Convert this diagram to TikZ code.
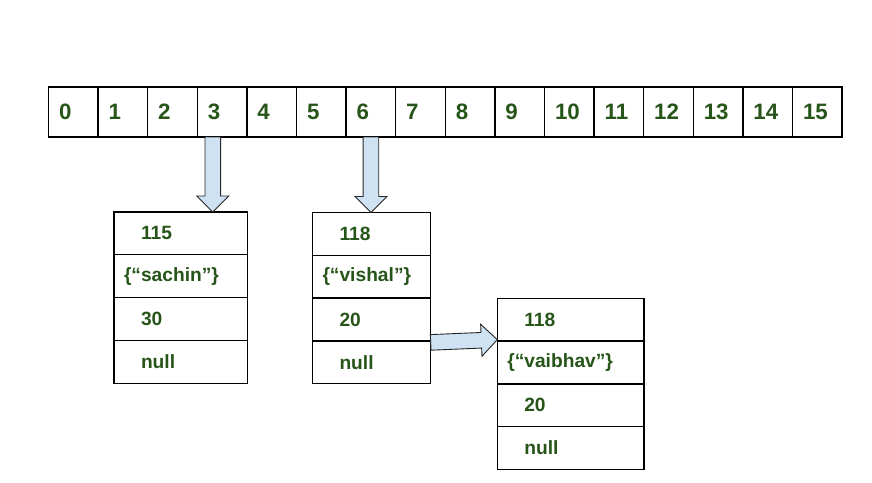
\documentclass[tikz,border=0pt]{standalone}
\usepackage{fontspec}
\setmainfont{Liberation Sans}
\usetikzlibrary{positioning, calc}

\definecolor{keygreen}{RGB}{39,85,25}
\definecolor{arrowblue}{RGB}{207,226,243}

\tikzset{
	cell/.style={draw, line width=1.3pt, outer sep=0pt, minimum height=50pt, inner xsep=10.5pt,
		text width=28.6pt, align=left, text=keygreen, font=\fontsize{22.3pt}{26pt}\selectfont\bfseries},
	field/.style={draw, line width=1.3pt, outer sep=0pt, minimum height=42.8pt, inner xsep=3pt,
		align=left, text=keygreen, font=\fontsize{19.2pt}{22pt}\selectfont\bfseries},
	rowA/.style={field, text width=127.7pt},
	rowB/.style={field, text width=112.2pt},
	rowC/.style={field, text width=140.7pt},
	pointer/.style={fill=arrowblue, draw=black!85, line width=0.9pt, line join=miter}
}

% fat arrow from #1 to #2
\newcommand{\blockarrow}[2]{%
	\coordinate (ba-h) at ($(#2)!16pt!(#1)$);
	\filldraw[pointer] ($(#1)!7.8pt!90:(#2)$) -- ($(ba-h)!7.8pt!90:(#2)$) -- ($(ba-h)!16pt!90:(#2)$) -- (#2)
		-- ($(ba-h)!16pt!-90:(#2)$) -- ($(ba-h)!7.8pt!-90:(#2)$) -- ($(#1)!7.8pt!-90:(#2)$) -- cycle;
}

\begin{document}
\begin{tikzpicture}[x=1pt, y=-1pt]
	\useasboundingbox (0,0) rectangle (872,482);

	% the table
	\node[cell, anchor=north west] (c0) at (48.5, 87) {0};
	\foreach \i [evaluate=\i as \j using int(\i-1)] in {1,...,15}
		\node[cell, right=0pt of c\j] (c\i) {\i};

	% chain at 3
	\node[rowA, anchor=north west] (n1a) at (114, 212)	{\hspace*{24pt}115};
	\node[rowA, below=0pt of n1a] (n1b) 				{\hspace*{7pt}\{“sachin”\}};
	\node[rowA, below=0pt of n1b] (n1c) 				{\hspace*{24pt}30};
	\node[rowA, below=0pt of n1c] (n1d) 				{\hspace*{24pt}null};

	% chain at 6
	\node[rowB, anchor=north west] (n2a) at (312.5, 212.5)	{\hspace*{24pt}118};
	\node[rowB, below=0pt of n2a] (n2b) 					{\hspace*{7pt}\{“vishal”\}};
	\node[rowB, below=0pt of n2b] (n2c) 					{\hspace*{24pt}20};
	\node[rowB, below=0pt of n2c] (n2d) 					{\hspace*{24pt}null};

	\node[rowC, anchor=north west] (n3a) at (497.3, 298.3)	{\hspace*{24pt}118};
	\node[rowC, below=0pt of n3a] (n3b) 					{\hspace*{7pt}\{“vaibhav”\}};
	\node[rowC, below=0pt of n3b] (n3c) 					{\hspace*{24pt}20};
	\node[rowC, below=0pt of n3c] (n3d) 					{\hspace*{24pt}null};

	\coordinate (s3) at ([xshift=-9.3pt]c3.south);
	\coordinate (t3) at (s3 |- n1a.north);
	\coordinate (s6) at (c6.south);
	\coordinate (t6) at (s6 |- n2a.north);
	\coordinate (s2) at ([yshift=-1.5pt]n2d.north east);
	\coordinate (t2) at ([yshift=1.5pt]n3a.south west);

	\blockarrow{s3}{t3}
	\blockarrow{s6}{t6}
	\blockarrow{s2}{t2}
\end{tikzpicture}
\end{document}
